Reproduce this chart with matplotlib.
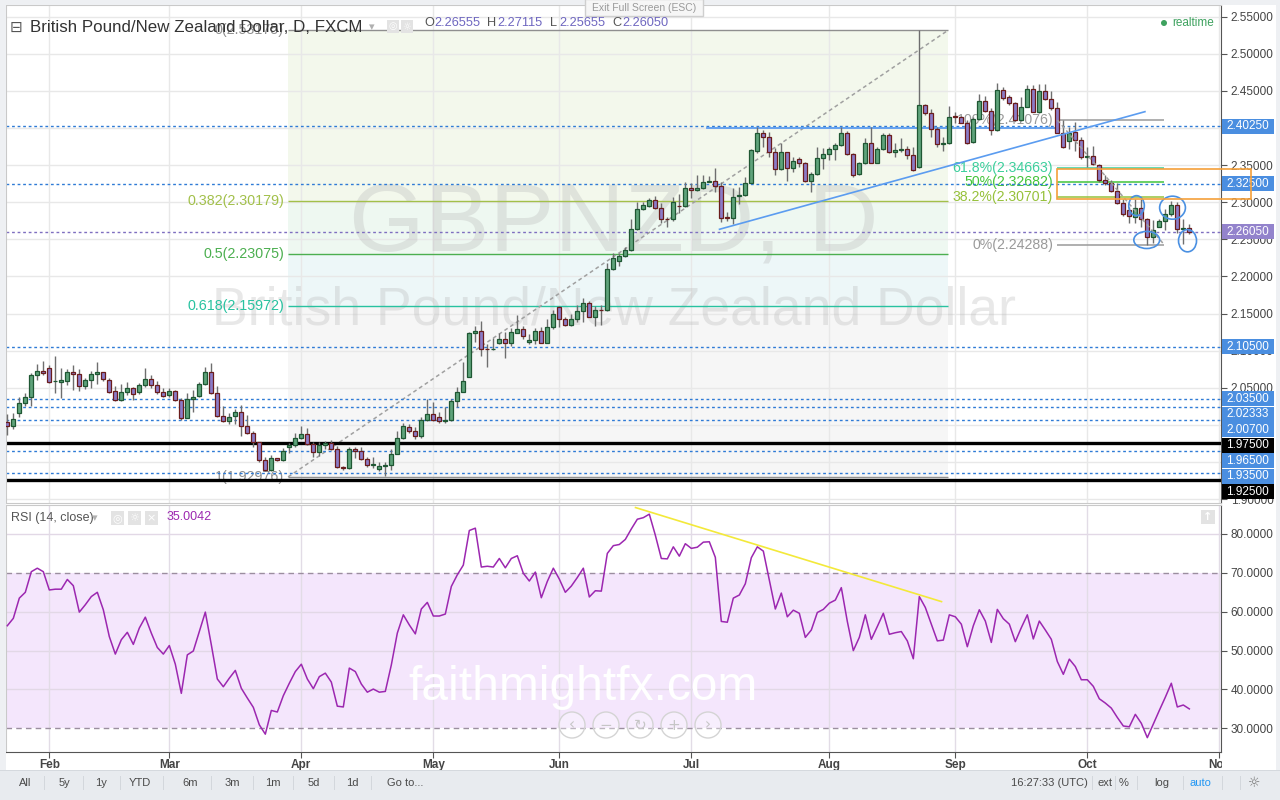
import numpy as np
import matplotlib.pyplot as plt
from matplotlib.patches import Rectangle, Ellipse

plt.rcParams['font.family'] = ['Liberation Sans', 'DejaVu Sans']

W, H = 1280, 800

# ---- daily GBPNZD candles ----
opens = [2.0033, 1.9988, 2.0155, 2.0289, 2.0370, 2.0667, 2.0721, 2.0761, 2.0588, 2.0581,
         2.0595, 2.0707, 2.0680, 2.0518, 2.0599, 2.0680, 2.0707, 2.0599, 2.0451, 2.0330,
         2.0438, 2.0491, 2.0438, 2.0532, 2.0613, 2.0532, 2.0438, 2.0397, 2.0451, 2.0330,
         2.0096, 2.0343, 2.0384, 2.0545, 2.0707, 2.0424, 2.0123, 2.0056, 2.0114, 2.0173,
         1.9988, 1.9885, 1.9764, 1.9521, 1.9386, 1.9548, 1.9521, 1.9696, 1.9723, 1.9818,
         1.9872, 1.9737, 1.9629, 1.9723, 1.9750, 1.9669, 1.9427, 1.9413, 1.9669, 1.9642,
         1.9535, 1.9454, 1.9400, 1.9445, 1.9454, 1.9602, 1.9818, 1.9966, 1.9916, 1.9854,
         2.0065, 2.0141, 2.0110, 2.0047, 2.0065, 2.0321, 2.0438, 2.0649, 2.1233, 2.1260,
         2.1017, 2.1015, 2.1098, 2.1152, 2.1098, 2.1242, 2.1287, 2.1111, 2.1138, 2.1260,
         2.1107, 2.1314, 2.1583, 2.1421, 2.1341, 2.1421, 2.1529, 2.1637, 2.1457, 2.1547,
         2.1543, 2.2095, 2.2212, 2.2275, 2.2356, 2.2634, 2.2904, 2.2953, 2.3025, 2.2917,
         2.2769, 2.2767, 2.2952, 2.2949, 2.3187, 2.3160, 2.3187, 2.3277, 2.3290, 2.3218,
         2.2792, 2.2790, 2.3079, 2.3097, 2.3263, 2.3695, 2.3928, 2.3883, 2.3672, 2.3443,
         2.3672, 2.3457, 2.3582, 2.3524, 2.3290, 2.3376, 2.3591, 2.3645, 2.3712, 2.3766,
         2.3928, 2.3645, 2.3376, 2.3524, 2.3793, 2.3533, 2.3712, 2.3901, 2.3672, 2.3704,
         2.3712, 2.3636, 2.3479, 2.4310, 2.4198, 2.3982, 2.3784, 2.3793, 2.4162, 2.4144,
         2.4063, 2.3807, 2.4117, 2.4364, 2.4225, 2.3973, 2.4512, 2.4413, 2.4332, 2.4108,
         2.4288, 2.4521, 2.4211, 2.4503, 2.4386, 2.4265, 2.3937, 2.3820, 2.3946, 2.3838,
         2.3605, 2.3623, 2.3497, 2.3299, 2.3254, 2.3151, 2.2985, 2.2890, 2.2805, 2.2922,
         2.2769, 2.2526, 2.2670, 2.2742, 2.2836, 2.2958, 2.2634, 2.26555]
highs = [2.0146, 2.0155, 2.0379, 2.0433, 2.0694, 2.0819, 2.0860, 2.0806, 2.0927, 2.0761,
         2.0752, 2.0806, 2.0748, 2.0626, 2.0730, 2.0846, 2.0707, 2.0626, 2.0523, 2.0550,
         2.0577, 2.0514, 2.0559, 2.0766, 2.0671, 2.0590, 2.0491, 2.0491, 2.0474, 2.0357,
         2.0424, 2.0469, 2.0572, 2.0775, 2.0828, 2.0523, 2.0253, 2.0155, 2.0208, 2.0262,
         2.0132, 1.9916, 1.9764, 1.9571, 1.9589, 1.9557, 1.9683, 1.9759, 1.9885, 1.9988,
         1.9961, 1.9773, 1.9773, 1.9782, 1.9795, 1.9714, 1.9445, 1.9705, 1.9705, 1.9696,
         1.9571, 1.9571, 1.9499, 1.9503, 1.9669, 1.9921, 2.0020, 2.0006, 1.9975, 2.0110,
         2.0352, 2.0307, 2.0173, 2.0235, 2.0343, 2.0514, 2.0846, 2.1255, 2.1336, 2.1399,
         2.1089, 2.1165, 2.1233, 2.1246, 2.1300, 2.1480, 2.1336, 2.1224, 2.1309, 2.1314,
         2.1421, 2.1547, 2.1601, 2.1448, 2.1493, 2.1610, 2.1709, 2.1669, 2.1601, 2.1615,
         2.2185, 2.2311, 2.2320, 2.2392, 2.2769, 2.3007, 2.3007, 2.3061, 2.3088, 2.2985,
         2.2805, 2.3075, 2.3111, 2.3277, 2.3254, 2.3367, 2.3367, 2.3358, 2.3465, 2.3277,
         2.2872, 2.3187, 2.3209, 2.3344, 2.3713, 2.4018, 2.3973, 2.3951, 2.3726, 2.3793,
         2.3672, 2.3614, 2.3614, 2.3546, 2.3412, 2.3749, 2.3726, 2.3748, 2.3802, 2.4009,
         2.3964, 2.3668, 2.3546, 2.3861, 2.4009, 2.3748, 2.3937, 2.3928, 2.3793, 2.3861,
         2.3757, 2.3748, 2.53175, 2.4323, 2.4252, 2.4018, 2.3883, 2.4297, 2.4220, 2.4162,
         2.4108, 2.4153, 2.4458, 2.4431, 2.4265, 2.4602, 2.4548, 2.4445, 2.4355, 2.4413,
         2.4580, 2.4580, 2.4593, 2.4593, 2.4503, 2.4355, 2.41076, 2.4018, 2.4085, 2.3874,
         2.3739, 2.3757, 2.3515, 2.3367, 2.3299, 2.3263, 2.3039, 2.2940, 2.3039, 2.3039,
         2.2792, 2.2760, 2.2769, 2.2908, 2.3021, 2.3007, 2.2769, 2.27115]
lows = [1.9863, 1.9943, 2.0110, 2.0253, 2.0253, 2.0604, 2.0671, 2.0559, 2.0433, 2.0357,
        2.0536, 2.0469, 2.0456, 2.0478, 2.0500, 2.0550, 2.0595, 2.0424, 2.0321, 2.0321,
        2.0406, 2.0339, 2.0411, 2.0505, 2.0496, 2.0411, 2.0379, 2.0379, 2.0316, 2.0060,
        2.0092, 2.0177, 2.0370, 2.0532, 2.0420, 2.0101, 2.0040, 2.0006, 2.0006, 1.9854,
        1.9876, 1.9705, 1.9494, 1.9380, 1.9380, 1.9508, 1.9508, 1.9624, 1.9705, 1.9809,
        1.9728, 1.9571, 1.9580, 1.9674, 1.9660, 1.9420, 1.9391, 1.9410, 1.9548, 1.9526,
        1.9436, 1.9413, 1.9373, 1.9314, 1.9391, 1.9600, 1.9815, 1.9885, 1.9804, 1.9827,
        2.0056, 2.0056, 2.0020, 2.0020, 2.0056, 2.0235, 2.0438, 2.0649, 2.1120, 2.0932,
        2.0784, 2.1008, 2.1089, 2.0905, 2.1067, 2.1233, 2.1156, 2.1089, 2.1085, 2.1100,
        2.1100, 2.1296, 2.1323, 2.1332, 2.1332, 2.1390, 2.1386, 2.1448, 2.1332, 2.1350,
        2.1540, 2.2086, 2.2140, 2.2257, 2.2340, 2.2625, 2.2895, 2.2940, 2.2908, 2.2724,
        2.2670, 2.2751, 2.2850, 2.2940, 2.3052, 2.3155, 2.3173, 2.3268, 2.3142, 2.2738,
        2.2747, 2.2702, 2.2976, 2.3088, 2.3254, 2.3668, 2.3749, 2.3614, 2.3367, 2.3434,
        2.3290, 2.3412, 2.3470, 2.3268, 2.3142, 2.3367, 2.3443, 2.3569, 2.3569, 2.3757,
        2.3636, 2.3344, 2.3367, 2.3515, 2.3524, 2.3524, 2.3703, 2.3668, 2.3605, 2.3681,
        2.3578, 2.3425, 2.3456, 2.4175, 2.3883, 2.3748, 2.3695, 2.3784, 2.4072, 2.4063,
        2.3784, 2.3793, 2.4108, 2.4216, 2.3906, 2.3964, 2.4377, 2.4310, 2.4100, 2.4095,
        2.4279, 2.4211, 2.4198, 2.4377, 2.4243, 2.3928, 2.3726, 2.3712, 2.3695, 2.3578,
        2.3479, 2.3501, 2.3277, 2.3232, 2.3142, 2.2976, 2.2818, 2.2715, 2.2715, 2.2670,
        2.24288, 2.2455, 2.2661, 2.2625, 2.2818, 2.2580, 2.2437, 2.25655]
closes = [1.9988, 2.0074, 2.0289, 2.0370, 2.0667, 2.0721, 2.0703, 2.0581, 2.0592, 2.0599,
          2.0707, 2.0680, 2.0518, 2.0599, 2.0680, 2.0707, 2.0613, 2.0447, 2.0330, 2.0438,
          2.0491, 2.0411, 2.0532, 2.0613, 2.0532, 2.0438, 2.0384, 2.0451, 2.0330, 2.0096,
          2.0343, 2.0370, 2.0545, 2.0707, 2.0424, 2.0123, 2.0047, 2.0110, 2.0173, 1.9988,
          1.9885, 1.9773, 1.9521, 1.9386, 1.9548, 1.9521, 1.9647, 1.9723, 1.9818, 1.9872,
          1.9746, 1.9629, 1.9723, 1.9750, 1.9674, 1.9427, 1.9413, 1.9669, 1.9642, 1.9535,
          1.9454, 1.9467, 1.9440, 1.9463, 1.9602, 1.9818, 1.9979, 1.9916, 1.9854, 2.0065,
          2.0141, 2.0065, 2.0047, 2.0065, 2.0321, 2.0438, 2.0590, 2.1233, 2.1260, 2.1017,
          2.1015, 2.1017, 2.1152, 2.1098, 2.1246, 2.1287, 2.1192, 2.1138, 2.1260, 2.1107,
          2.1314, 2.1493, 2.1421, 2.1341, 2.1421, 2.1529, 2.1637, 2.1457, 2.1547, 2.1543,
          2.2095, 2.2244, 2.2275, 2.2356, 2.2634, 2.2904, 2.2962, 2.3025, 2.2917, 2.2769,
          2.2767, 2.3003, 2.2949, 2.3187, 2.3160, 2.3187, 2.3277, 2.3290, 2.3218, 2.2792,
          2.2790, 2.3066, 2.3097, 2.3263, 2.3704, 2.3928, 2.3883, 2.3672, 2.3443, 2.3672,
          2.3457, 2.3551, 2.3524, 2.3290, 2.3376, 2.3591, 2.3645, 2.3712, 2.3766, 2.3928,
          2.3645, 2.3362, 2.3524, 2.3793, 2.3533, 2.3712, 2.3901, 2.3672, 2.3704, 2.3717,
          2.3636, 2.3434, 2.4310, 2.4198, 2.3982, 2.3780, 2.3793, 2.4153, 2.4144, 2.4072,
          2.3802, 2.4117, 2.4364, 2.4225, 2.3973, 2.4512, 2.4400, 2.4332, 2.4108, 2.4288,
          2.4521, 2.4220, 2.4503, 2.4391, 2.4265, 2.3937, 2.3739, 2.3937, 2.3838, 2.3605,
          2.3623, 2.3515, 2.3299, 2.3254, 2.3151, 2.2985, 2.2836, 2.2810, 2.2922, 2.2769,
          2.2526, 2.2625, 2.2742, 2.2836, 2.2958, 2.2634, 2.2656, 2.2605]

# RSI(14, close) as drawn
rsi = [56.4, 58.3, 63.5, 65.0, 70.3, 71.2, 70.3, 65.6, 65.8, 65.8,
       68.3, 66.7, 59.9, 61.8, 63.9, 65.0, 60.5, 53.6, 49.1, 52.8,
       54.7, 51.6, 55.8, 58.6, 54.5, 50.8, 49.1, 51.3, 46.5, 39.0,
       48.9, 49.9, 54.9, 59.9, 51.5, 42.7, 40.7, 42.9, 44.9, 40.3,
       37.8, 35.4, 30.9, 28.5, 34.6, 34.2, 38.4, 41.6, 44.6, 46.5,
       42.7, 40.2, 43.3, 44.2, 41.9, 35.7, 35.5, 45.5, 44.6, 41.4,
       39.3, 40.1, 39.3, 39.5, 46.3, 54.5, 59.2, 56.6, 54.3, 60.7,
       62.4, 58.9, 58.9, 59.4, 66.5, 69.5, 72.0, 80.9, 81.5, 71.5,
       71.7, 71.5, 73.7, 71.3, 73.7, 74.4, 69.9, 67.9, 70.2, 63.6,
       67.8, 71.2, 68.4, 65.0, 66.6, 68.8, 71.2, 63.8, 65.4, 65.3,
       75.0, 77.0, 77.3, 78.6, 81.3, 83.8, 84.2, 85.1, 79.7, 73.7,
       73.6, 76.7, 74.3, 77.5, 76.3, 76.6, 77.9, 78.0, 74.0, 57.5,
       57.3, 63.5, 64.3, 67.2, 73.9, 76.7, 75.6, 68.2, 60.7, 64.8,
       58.7, 60.4, 59.6, 53.4, 55.3, 59.8, 60.6, 62.2, 63.0, 66.2,
       57.5, 50.0, 53.4, 59.2, 52.9, 56.2, 59.6, 54.2, 54.6, 54.9,
       52.5, 47.9, 63.9, 61.1, 56.8, 52.5, 52.7, 59.2, 58.7, 56.8,
       51.0, 56.4, 60.5, 57.6, 52.1, 60.6, 58.2, 56.8, 52.3, 55.9,
       59.2, 53.0, 57.6, 55.3, 52.9, 47.2, 43.9, 47.8, 45.9, 42.5,
       42.5, 40.8, 37.6, 36.5, 35.2, 32.8, 30.6, 30.4, 33.6, 31.3,
       27.6, 31.1, 34.6, 38.0, 41.6, 35.5, 36.0, 35.0]

months = ['Feb', 'Mar', 'Apr', 'May', 'Jun', 'Jul', 'Aug', 'Sep', 'Oct', 'Nov']
month_bar = [7, 27, 49, 71, 92, 114, 137, 158, 180, 202]

blue_levels = [2.4025, 2.325, 2.105, 2.035, 2.02333, 2.007, 1.965, 1.935]
black_levels = [1.975, 1.925]
last_price = 2.2605

fib1_levels = [0, 0.382, 0.5, 0.618, 1]
fib1_prices = [2.53175, 2.30179, 2.23075, 2.15972, 1.92976]
fib1_colors = ['#8f8f8f', '#a2c04a', '#4caf50', '#28c2a0', '#8f8f8f']
fib1_bands = ['#f3f8ec', '#eef8f1', '#edf7f8', '#f6f6f6']
fib1_from, fib1_to = 46.8, 156.8

fib2_levels = ['100%', '61.8%', '50%', '38.2%', '0%']
fib2_prices = [2.41076, 2.34663, 2.32682, 2.30701, 2.24288]
fib2_colors = ['#9a9a9a', '#3ccf9c', '#43c43b', '#96c13a', '#9a9a9a']
fib2_from, fib2_to = 175.0, 192.8

# circles drawn on the chart: bar, price, width (bars), height (price)
marks = [(188.2, 2.2953, 2.6, 0.027), (189.9, 2.2491, 4.3, 0.023),
         (194.2, 2.2926, 4.3, 0.031), (196.7, 2.2481, 3.0, 0.030)]

fig = plt.figure(figsize=(12.8, 8), dpi=100, facecolor='white')


def ftext(x, y, s, **kw):
    return fig.text(x / W, 1 - y / H, s, **kw)


def frect(x0, y0, x1, y1, **kw):
    r = Rectangle((x0 / W, 1 - y1 / H), (x1 - x0) / W, (y1 - y0) / H,
                  transform=fig.transFigure, **kw)
    fig.add_artist(r)
    return r


ax = fig.add_axes([6 / W, 1 - 503 / H, 1215 / W, 498 / H])
axr = fig.add_axes([6 / W, 1 - 752 / H, 1215 / W, 247 / H])

n = len(closes)
idx = np.arange(n)
xlim = (-0.22, 202.28)

# ---------------- price panel ----------------
ax.set_xlim(*xlim)
ax.set_ylim(1.89461, 2.56577)
yt = np.round(np.arange(1.90, 2.5501, 0.05), 2)
for v in yt:
    ax.axhline(v, color='#e8e8e8', lw=1, zorder=0.4)
for m in month_bar:
    ax.axvline(m, color='#e8e8e8', lw=1, zorder=0.4)

# fib retracement 1
for k in range(4):
    ax.fill_between([fib1_from, fib1_to], fib1_prices[k + 1], fib1_prices[k],
                    color=fib1_bands[k], lw=0, zorder=0.3)
for lv, p, c in zip(fib1_levels, fib1_prices, fib1_colors):
    ax.hlines(p, fib1_from, fib1_to, color=c, lw=1, zorder=1.2)
    ax.annotate(f'{lv:g}({p:.5f})', (fib1_from, p), xytext=(-3, 0),
                textcoords='offset points', ha='right', va='center',
                fontsize=10.3, color=c, zorder=1.3)
ax.plot([fib1_from, fib1_to], [fib1_prices[-1], fib1_prices[0]],
        color='#a0a0a0', lw=1.1, ls=(0, (2.5, 2)), zorder=1.25)

# watermark
ax.text(0.5, 0.507, 'GBPNZD, D', transform=ax.transAxes, ha='center',
        va='baseline', fontsize=70, color='#b4b4b4', alpha=0.3, zorder=0.6)
ax.text(0.5, 0.359, 'British Pound/New Zealand Dollar', transform=ax.transAxes,
        ha='center', va='baseline', fontsize=38.5, color='#b4b4b4', alpha=0.3,
        zorder=0.6)

# horizontal levels
for p in blue_levels:
    ax.axhline(p, color='#2f7bd6', lw=1, ls=(0, (2, 2)), zorder=1.5)
for p in black_levels:
    ax.axhline(p, color='black', lw=2.4, zorder=1.5)
ax.axhline(last_price, color='#7f6fc0', lw=1, ls=(0, (2, 2)), zorder=1.5)

# trend lines
ax.plot([116.6, 175.0], [2.4000, 2.4000], color='#5b9cf0', lw=1.3, zorder=1.6)
ax.plot([118.7, 189.6], [2.2635, 2.4220], color='#5b9cf0', lw=1.2, zorder=3.5)

# fib retracement 2
for lv, p, c in zip(fib2_levels, fib2_prices, fib2_colors):
    ax.hlines(p, fib2_from, fib2_to, color=c, lw=1.1, zorder=1.4)
    ax.annotate(f'{lv}({p:.5f})', (fib2_from, p), xytext=(-3, 0),
                textcoords='offset points', ha='right', va='center',
                fontsize=10.2, color=c, zorder=1.3)
ax.plot([fib2_from, fib2_to], [fib2_prices[0], fib2_prices[-1]],
        color='#a0a0a0', lw=1.1, ls=(0, (2.5, 2)), zorder=3.4)

# candles
o = np.array(opens)
c = np.array(closes)
hi = np.array(highs)
lo = np.array(lows)
up = c >= o
body_lo = np.minimum(o, c)
body_h = np.maximum(np.abs(c - o), 0.0004)
ax.vlines(idx, lo, hi, color='#6e6e6e', lw=1, zorder=2.9)
ax.bar(idx[up], body_h[up], bottom=body_lo[up], width=0.64, color='#5fa37b',
       edgecolor='#1f5733', lw=0.9, zorder=3)
ax.bar(idx[~up], body_h[~up], bottom=body_lo[~up], width=0.64, color='#8b7bc8',
       edgecolor='#6a1c1c', lw=0.9, zorder=3)

for bx, by, bw, bh in marks:
    ax.add_patch(Ellipse((bx, by), bw, bh, fill=False, ec='#4a90e2', lw=1.2, zorder=4))

ax.yaxis.tick_right()
ax.set_yticks(yt)
ax.set_yticklabels([f'{v:.5f}' for v in yt])
ax.tick_params(axis='y', length=4, color='#555555', labelsize=8.5,
               labelcolor='#444444', pad=3)
ax.tick_params(axis='x', length=0, labelbottom=False)
for s in ['left', 'top', 'bottom']:
    ax.spines[s].set_color('#c9c9c9')
ax.spines['right'].set_color('#555555')

# ---------------- RSI panel ----------------
axr.set_xlim(*xlim)
axr.set_ylim(23.91, 87.46)
axr.fill_between(xlim, 30, 70, color='#f4e6fc', lw=0, zorder=0.2)
for v in [40, 50, 60, 80]:
    axr.axhline(v, color='#e2d8e6', lw=1, zorder=0.4)
for m in month_bar:
    axr.axvline(m, color='#e2dce6', lw=1, zorder=0.4)
for v in [30, 70]:
    axr.axhline(v, color='#9b8e9f', lw=1, ls=(0, (4, 3)), zorder=0.5)
axr.plot(idx, rsi, color='#9c27b0', lw=1.1, zorder=3)
axr.plot([104.7, 155.7], [86.8, 62.6], color='#f3e93a', lw=1.2, zorder=3.2)
axr.text(0.4753, 0.21, 'faithmightfx.com', transform=axr.transAxes, ha='center',
         va='baseline', fontsize=34.5, color='white', zorder=4)

axr.yaxis.tick_right()
rt = [30, 40, 50, 60, 70, 80]
axr.set_yticks(rt)
axr.set_yticklabels([f'{v:.4f}' for v in rt])
axr.tick_params(axis='y', length=4, color='#555555', labelsize=8.5,
                labelcolor='#444444', pad=3)
axr.set_xticks(month_bar)
axr.set_xticklabels(months)
axr.tick_params(axis='x', length=4, color='#555555', labelsize=8.5,
                labelcolor='#444444', pad=1)
for t in axr.get_xticklabels():
    t.set_fontweight('bold')
axr.spines['left'].set_color('#c9c9c9')
axr.spines['top'].set_color('#c9c9c9')
axr.spines['right'].set_color('#555555')
axr.spines['bottom'].set_color('#555555')

# nav buttons
for k, sym in enumerate(['‹', '−', '↻', '+', '›']):
    cx = 572 + 34 * k
    fig.add_artist(Ellipse((cx / W, 1 - 725 / H), 26 / W, 26 / H, transform=fig.transFigure,
                           fc='#ffffff', alpha=0.35, ec='none', zorder=2))
    fig.add_artist(Ellipse((cx / W, 1 - 725 / H), 26 / W, 26 / H, transform=fig.transFigure,
                           fill=False, ec='#d4d4d4', lw=1, zorder=2))
    ftext(cx, 725, sym, ha='center', va='center', fontsize=11, color='#c6c6c6',
          family=['DejaVu Sans'], zorder=2)

# right scale boxes for horizontal levels, pushed apart like the original
items = [(p, '#4a8ee0') for p in blue_levels] + [(p, '#000000') for p in black_levels]
items.append((last_price, '#9383cc'))
items.sort(key=lambda t: -t[0])
prev = None
for p, col in items:
    yd = ax.transData.transform((0, p))[1]
    if prev is not None and yd > prev - 15.5:
        yd = prev - 15.5
    prev = yd
    fig.add_artist(Rectangle((1222 / W, (yd - 7.5) / H), 52 / W, 15 / H,
                             transform=fig.transFigure, fc=col, ec='none', zorder=5))
    fig.text(1226 / W, yd / H, f'{p:.5f}', color='white', fontsize=8.5,
             va='center', ha='left', zorder=6)

# orange box (sits over the price scale)
fig.add_artist(Rectangle((174.95, 2.3043), 32.4, 2.3444 - 2.3043, transform=ax.transData,
                         fill=False, ec='#f5a03a', lw=1.2, zorder=7))

# ---------------- frame pieces ----------------
frect(0, 0, 1280, 5, fc='#eef0f3', ec='none', zorder=8)
frect(0, 0, 5.5, 770, fc='#eef0f3', ec='none', zorder=8)
frect(1276, 0, 1280, 770, fc='#eef0f3', ec='none', zorder=8)
frect(1222, 752.5, 1276, 770, fc='white', ec='none', zorder=8)
frect(0, 770, 1280, 800, fc='#e8ebef', ec='none', zorder=8)
frect(0, 770, 1280, 771, fc='#d5d9de', ec='none', zorder=8)

# header
ftext(16, 27, '⊟', ha='center', va='center', fontsize=11, color='#555555',
      family=['DejaVu Sans'], zorder=9)
ftext(30, 27, 'British Pound/New Zealand Dollar, D, FXCM', ha='left', va='center',
      fontsize=12.2, color='#333333', zorder=9)
ftext(372, 27, '▾', ha='center', va='center', fontsize=8, color='#b0b0b0',
      family=['DejaVu Sans'], zorder=9)
for x0, g in [(387, '◎'), (401, '☼')]:
    frect(x0, 20, x0 + 12, 33, fc='#e3e3e3', ec='none', zorder=9)
    ftext(x0 + 6, 26.5, g, ha='center', va='center', fontsize=7, color='white',
          family=['DejaVu Sans'], zorder=9)
for x0, s, col in [(424, 'O', '#555555'), (434, '2.26555', '#6e66c0'),
                   (487, 'H', '#555555'), (497, '2.27115', '#6e66c0'),
                   (550, 'L', '#555555'), (559, '2.25655', '#6e66c0'),
                   (612, 'C', '#555555'), (622, '2.26050', '#6e66c0')]:
    ftext(x0, 23, s, ha='left', va='center', fontsize=9.2, color=col, zorder=9)
frect(585, -1, 703, 16, fc='#f6f6f6', ec='#cfcfcf', lw=1, zorder=9)
ftext(644, 8, 'Exit Full Screen (ESC)', ha='center', va='center', fontsize=7.5,
      color='#9a9a9a', zorder=10)
fig.add_artist(Ellipse((1164 / W, 1 - 23 / H), 6 / W, 6 / H, transform=fig.transFigure,
                       fc='#3ea25f', ec='none', zorder=9))
ftext(1172, 23, 'realtime', ha='left', va='center', fontsize=8.5, color='#3ea25f', zorder=9)

# RSI header
ftext(11, 518, 'RSI (14, close)', ha='left', va='center', fontsize=9, color='#555555', zorder=9)
ftext(95, 518, '▾', ha='center', va='center', fontsize=8, color='#b0b0b0',
      family=['DejaVu Sans'], zorder=9)
for x0, g in [(111, '◎'), (128, '☼'), (145, '×')]:
    frect(x0, 511, x0 + 13, 525, fc='#e3e3e3', ec='none', zorder=9)
    ftext(x0 + 6.5, 518, g, ha='center', va='center', fontsize=8, color='white',
          family=['DejaVu Sans'], zorder=9)
ftext(167, 517, '35.0042', ha='left', va='center', fontsize=9, color='#9c27b0', zorder=9)
frect(1201, 510, 1215, 524, fc='#e3e3e3', ec='none', zorder=9)
ftext(1208, 517, '↑', ha='center', va='center', fontsize=8, color='white',
      family=['DejaVu Sans'], fontweight='bold', zorder=9)

# bottom toolbar
left_items = [(25, 'All'), (64, '5y'), (101, '1y'), (140, 'YTD'), (190, '6m'),
              (232, '3m'), (273, '1m'), (314, '5d'), (352, '1d'), (405, 'Go to...')]
for x0, s in left_items:
    ftext(x0, 783, s, ha='center', va='center', fontsize=8, color='#4a4a4a', zorder=9)
for x0 in [44, 83, 120, 163, 211, 253, 293, 334, 371]:
    frect(x0, 776, x0 + 1, 790, fc='#d3d7dc', ec='none', zorder=9)
right_items = [(1049, '16:27:33 (UTC)', '#4a4a4a'), (1105, 'ext', '#4a4a4a'),
               (1124, '%', '#4a4a4a'), (1162, 'log', '#4a4a4a'), (1200, 'auto', '#2196f3')]
for x0, s, col in right_items:
    ftext(x0, 783, s, ha='center', va='center', fontsize=8, color=col, zorder=9)
for x0 in [1092, 1115, 1137, 1183, 1222, 1240]:
    frect(x0, 776, x0 + 1, 790, fc='#d3d7dc', ec='none', zorder=9)
ftext(1254, 783, '☼', ha='center', va='center', fontsize=10, color='#777777',
      family=['DejaVu Sans'], zorder=9)

fig.savefig('out.png', dpi=100)
